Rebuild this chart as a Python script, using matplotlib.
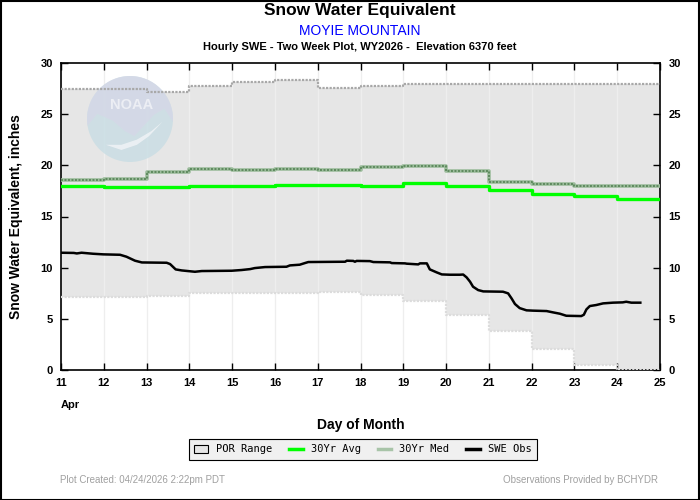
import matplotlib
matplotlib.use("Agg")
import matplotlib.pyplot as plt
from matplotlib.lines import Line2D
from matplotlib.patches import Patch, Ellipse, Polygon, Rectangle
import numpy as np

# ---------------- data ----------------
days = [11, 12, 13, 14, 15, 16, 17, 18, 19, 20, 21, 22, 23, 24]
por_max = [27.45, 27.45, 27.2, 27.8, 28.16, 28.35, 27.58, 27.8, 27.93, 27.93, 27.93, 27.93, 27.93, 27.93]
por_min = [7.16, 7.16, 7.2, 7.49, 7.49, 7.49, 7.65, 7.32, 6.77, 5.37, 3.84, 2.05, 0.45, 0.0]
med_30yr = [18.55, 18.65, 19.34, 19.63, 19.56, 19.63, 19.53, 19.85, 19.95, 19.43, 18.36, 18.2, 18.0, 18.0]
avg_30yr = [17.97, 17.87, 17.87, 18.0, 18.0, 18.1, 18.1, 17.97, 18.3, 17.97, 17.58, 17.22, 17.03, 16.73]

obs_day = [11.0, 11.3, 11.37, 11.48, 11.75, 11.99, 12.38, 12.53, 12.73, 12.89, 13.47, 13.55, 13.68,
           13.82, 14.13, 14.29, 14.99, 15.22, 15.42, 15.53, 15.77, 16.27, 16.35, 16.58, 16.7, 16.78,
           17.64, 17.68, 17.83, 17.87, 17.91, 18.22, 18.3, 18.69, 18.73, 19.04, 19.08, 19.35, 19.39,
           19.55, 19.62, 19.78, 19.9, 20.09, 20.32, 20.4, 20.48, 20.56, 20.63, 20.75, 20.87, 21.33,
           21.45, 21.53, 21.61, 21.72, 21.88, 22.03, 22.35, 22.5, 22.66, 22.81, 23.16, 23.22, 23.28,
           23.36, 23.51, 23.67, 23.9, 24.13, 24.21, 24.33, 24.54]
obs_swe = [11.46, 11.44, 11.39, 11.46, 11.36, 11.3, 11.26, 11.07, 10.68, 10.51, 10.48, 10.35, 9.83,
           9.73, 9.6, 9.67, 9.7, 9.77, 9.86, 9.96, 10.06, 10.09, 10.22, 10.29, 10.45, 10.55,
           10.58, 10.68, 10.66, 10.58, 10.66, 10.64, 10.55, 10.52, 10.45, 10.42, 10.39, 10.32, 10.42,
           10.42, 9.83, 9.54, 9.34, 9.31, 9.31, 9.33, 9.05, 8.63, 8.14, 7.81, 7.68, 7.65,
           7.49, 7.0, 6.45, 6.05, 5.83, 5.8, 5.76, 5.63, 5.5, 5.3, 5.27, 5.4, 5.92,
           6.25, 6.35, 6.51, 6.58, 6.61, 6.67, 6.58, 6.58]

xticks = list(range(11, 26))
yticks = [0, 5, 10, 15, 20, 25, 30]

title = "Snow Water Equivalent"
station = "MOYIE MOUNTAIN"
subtitle = "Hourly SWE - Two Week Plot, WY2026 -  Elevation 6370 feet"
created = "Plot Created: 04/24/2026 2:22pm PDT"
provided = "Observations Provided by BCHYDR"

plt.rcParams['font.family'] = ['Liberation Sans', 'DejaVu Sans']


def ext(v):
    return list(v) + [v[-1]]


dx = days + [25]

fig = plt.figure(figsize=(7, 5), dpi=100)
fig.patch.set_facecolor('white')
fig.patches.append(Rectangle((0.001, 0.001), 0.997, 0.997, transform=fig.transFigure,
                             fill=False, edgecolor='black', lw=1.5, zorder=10))

ax = fig.add_axes([61/700, 1-370/500, (660-61)/700, (370-63)/500])
ax.set_facecolor('white')

# POR range fill
ax.fill_between(dx, ext(por_min), ext(por_max), step='post', color='#e6e6e6', lw=0, zorder=1)
# grid
for d in xticks:
    ax.axvline(d, color='#eeeeee', lw=0.9, zorder=1.5)

# NOAA watermark (figure-pixel placement, inside axes between fill and lines)
lx0, ly0, lw_, lh_ = 87/700, 1-162/500, 86/700, 86/500
def tr(pts):
    return [(lx0 + u*lw_, ly0 + v*lh_) for u, v in pts]
ax.add_patch(Ellipse((lx0 + lw_/2, ly0 + lh_/2), lw_, lh_, transform=fig.transFigure,
                     facecolor='#c8dde4', lw=0, alpha=0.8, zorder=2))
theta = np.linspace(np.pi * 1.05, -np.pi * 0.02, 50)
top = [(0.5 + 0.5*np.cos(t), 0.5 + 0.5*np.sin(t)) for t in theta]
poly = top + [(0.9, 0.62), (0.78, 0.55), (0.66, 0.42), (0.55, 0.3), (0.44, 0.36), (0.3, 0.48), (0.12, 0.56)]
ax.add_patch(Polygon(tr(poly), closed=True, transform=fig.transFigure,
                     facecolor='#d5d8e7', lw=0, alpha=0.85, zorder=2.1))
wing = [(0.22, 0.2), (0.4, 0.2), (0.58, 0.26), (0.75, 0.36), (0.88, 0.47), (0.72, 0.3),
        (0.58, 0.2), (0.4, 0.14)]
ax.add_patch(Polygon(tr(wing), closed=True, transform=fig.transFigure,
                     facecolor='#eef2f5', lw=0, alpha=0.9, zorder=2.2))
ax.text(lx0 + 0.52*lw_, ly0 + 0.66*lh_, "NOAA", transform=fig.transFigure, ha='center', va='center',
        fontsize=10.5, fontweight='bold', color='#eceef4', zorder=2.3)

ax.step(dx, ext(por_max), where='post', color='#a8a8a8', lw=1.6, ls=(0, (1, 0.6)), zorder=3)
ax.step(dx, ext(por_min), where='post', color='#dcdcdc', lw=1.6, ls=(0, (1, 0.6)), zorder=3)
ax.step(dx, ext(med_30yr), where='post', color='#9cbc9c', lw=2.6, zorder=3)
ax.step(dx, ext(med_30yr), where='post', color='#5e8a5e', lw=1.4, ls=(0, (1, 0.8)), zorder=3.1)
ax.step(dx, ext(avg_30yr), where='post', color='#00ff00', lw=2.4, zorder=3.2)
ax.plot(obs_day, obs_swe, color='black', lw=1.8, zorder=4)

ax.set_xlim(11, 25)
ax.set_ylim(0, 30)
ax.set_xticks(xticks)
ax.set_yticks(yticks)
ax.tick_params(direction='in', length=5, width=1, top=True, right=True,
               labelright=True, labelsize=8, pad=6)
for lab in ax.get_xticklabels() + ax.get_yticklabels():
    lab.set_fontweight('bold')
for t in ax.yaxis.get_major_ticks():
    t.label2.set_fontweight('bold')
for sp in ax.spines.values():
    sp.set_linewidth(1.2)

ax.text(11, -0.115, "Apr", transform=ax.get_xaxis_transform(), ha='left', va='center',
        fontsize=8, fontweight='bold')
ax.set_xlabel("Day of Month", fontsize=10, fontweight='bold', labelpad=21)
ax.set_ylabel("Snow Water Equivalent, inches", fontsize=10, fontweight='bold', labelpad=12)

# titles
fig.text(0.514, 0.978, title, ha='center', va='center', fontsize=12.5, fontweight='bold')
fig.text(0.514, 0.938, station, ha='center', va='center', fontsize=10, color='#0000ff')
fig.text(0.514, 0.906, subtitle, ha='center', va='center', fontsize=8, fontweight='bold')

# footer
fig.text(60/700, 1-480/500, created, ha='left', va='center', fontsize=7, color='#a0a0a0')
fig.text(658/700, 1-480/500, provided, ha='right', va='center', fontsize=7, color='#a0a0a0')

# legend
handles = [Patch(facecolor='#e6e6e6', edgecolor='black', lw=0.8),
           Line2D([], [], color='#00ff00', lw=2.5),
           Line2D([], [], color='#a8c4a8', lw=2.5),
           Line2D([], [], color='black', lw=2.5)]
labels = ["POR Range", "30Yr Avg", "30Yr Med", "SWE Obs"]
leg = fig.legend(handles, labels, loc='center', bbox_to_anchor=(363/700, 1-449.5/500), ncol=4,
                 frameon=True, fancybox=False, edgecolor='black', facecolor='#f0f0f0', framealpha=1,
                 prop={'family': 'DejaVu Sans Mono', 'size': 7.5}, handlelength=1.3, handleheight=0.9,
                 columnspacing=1.6, handletextpad=0.8, borderpad=0.55)
leg.get_frame().set_linewidth(0.8)

fig.savefig("out.png", dpi=100)
